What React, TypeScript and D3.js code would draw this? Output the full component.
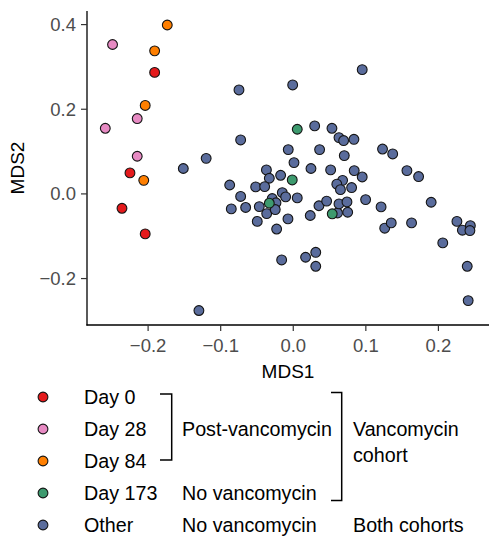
import React from 'react';
import * as d3 from 'd3';

const W = 491;
const H = 538;

// sample groups, coordinates
const groups = ['Day 0', 'Day 28', 'Day 84', 'Day 173', 'Other'];
const colors = ['#e41a1c', '#e78ac3', '#ff7f00', '#3d9a6e', '#5a6c9c'];

const day0 = [[-0.191, 0.287], [-0.225, 0.0496], [-0.236, -0.034], [-0.204, -0.0945]];
const day28 = [[-0.249, 0.353], [-0.215, 0.178], [-0.259, 0.155], [-0.215, 0.089]];
const day84 = [[-0.1736, 0.399], [-0.191, 0.338], [-0.204, 0.209], [-0.206, 0.032]];
const day173 = [[0.0055, 0.1527], [-0.0014, 0.033], [-0.033, -0.022], [0.0537, -0.047]];
const other = [
  [-0.0748, 0.2456], [-0.0725, 0.1275], [-0.12, 0.084], [-0.1515, 0.06], [-0.0876, 0.021],
  [-0.0725, -0.006], [-0.0854, -0.0354], [-0.0656, -0.032], [-0.13, -0.2755], [0.095, 0.2935],
  [-0.0008, 0.2574], [0.0295, 0.1606], [0.0533, 0.155], [0.063, 0.133], [0.0694, 0.126],
  [0.0836, 0.129], [-0.0069, 0.1047], [0.0363, 0.1047], [0.0703, 0.0905], [0.123, 0.106],
  [0.137, 0.0944], [0.001, 0.074], [-0.037, 0.0567], [-0.033, 0.037], [-0.0174, 0.044],
  [0.0244, 0.06], [0.0515, 0.0567], [0.084, 0.055], [0.095, 0.04], [0.1566, 0.055],
  [0.1727, 0.041], [-0.0518, 0.0165], [-0.0394, 0.0173], [0.068, 0.032], [0.06, 0.023],
  [0.065, 0.01], [0.0804, 0.015], [-0.0151, 0.003], [-0.029, -0.011], [-0.0105, -0.007],
  [0.0055, -0.0094], [-0.0238, -0.021], [-0.0468, -0.03], [-0.0366, -0.0465], [-0.0248, -0.037],
  [-0.0496, -0.065], [-0.0073, -0.059], [-0.0229, -0.083], [0.0234, -0.051], [0.0354, -0.028],
  [0.046, -0.017], [0.061, -0.045], [0.063, -0.0236], [0.074, -0.019], [0.075, -0.0433],
  [0.0997, -0.0134], [0.121, -0.0307], [0.19, -0.0197], [0.126, -0.081], [0.135, -0.0685],
  [0.163, -0.0685], [0.2255, -0.065], [0.233, -0.0857], [0.244, -0.075], [0.2434, -0.0866],
  [0.206, -0.1157], [0.2397, -0.171], [0.241, -0.252], [-0.016, -0.156], [0.017, -0.1496],
  [0.031, -0.138], [0.031, -0.171],
];

const xTicks = [-0.2, -0.1, 0, 0.1, 0.2];
const yTicks = [-0.2, 0, 0.2, 0.4];

const treatment = ['', 'Post-vancomycin', '', 'No vancomycin', 'No vancomycin'];

const font = 'Liberation Sans, Arial, Helvetica, sans-serif';

export default function App() {
  const x = d3.scaleLinear().domain([-0.2842, 0.2697]).range([87, 489]);
  const y = d3.scaleLinear().domain([-0.3097, 0.4321]).range([325, 11]);
  const fmt = (v: number) => d3.format('.1f')(v).replace('-', '\u2212');

  // draw "Other" first so coloured points sit on top
  const layers = [
    { pts: other, i: 4 },
    { pts: day0, i: 0 },
    { pts: day28, i: 1 },
    { pts: day84, i: 2 },
    { pts: day173, i: 3 },
  ];

  const rowY = (i: number) => 397 + i * 32;

  return (
    <svg width={W} height={H} style={{ position: 'absolute', left: 0, top: 0 }} fontFamily={font}>
      <rect width={W} height={H} fill="#fff" />

      {/* axes */}
      <line x1={87} x2={87} y1={11} y2={325.6} stroke="#000" strokeWidth={1.3} />
      <line x1={86.4} x2={489} y1={325} y2={325} stroke="#000" strokeWidth={1.3} />
      {yTicks.map(t => (
        <g key={'y' + t}>
          <line x1={81} x2={87} y1={y(t)} y2={y(t)} stroke="#333" strokeWidth={1.2} />
          <text x={76} y={y(t) + 6.5} textAnchor="end" fontSize={18.5} fill="#4d4d4d">{fmt(t)}</text>
        </g>
      ))}
      {xTicks.map(t => (
        <g key={'x' + t}>
          <line x1={x(t)} x2={x(t)} y1={325} y2={331} stroke="#333" strokeWidth={1.2} />
          <text x={x(t)} y={352} textAnchor="middle" fontSize={18.5} fill="#4d4d4d">{fmt(t)}</text>
        </g>
      ))}
      <text x={288} y={378} textAnchor="middle" fontSize={19}>MDS1</text>
      <text transform="translate(24,168) rotate(-90)" textAnchor="middle" fontSize={19}>MDS2</text>

      {/* points */}
      {layers.map(l =>
        l.pts.map((p, j) => (
          <circle key={l.i + '-' + j} cx={x(p[0])} cy={y(p[1])} r={4.9}
            fill={colors[l.i]} stroke="#141414" strokeWidth={1.1} />
        ))
      )}

      {/* legend */}
      {groups.map((g, i) => (
        <g key={g}>
          <circle cx={43} cy={rowY(i)} r={4.9} fill={colors[i]} stroke="#141414" strokeWidth={1.1} />
          <text x={84} y={rowY(i) + 7} fontSize={19.7}>{g}</text>
          {treatment[i] && <text x={182} y={rowY(i) + 7} fontSize={19.7}>{treatment[i]}</text>}
        </g>
      ))}
      <path d="M160,394H171.7V460H160" fill="none" stroke="#000" strokeWidth={1.5} />
      <path d="M331,392.5H341.7V500.5H331" fill="none" stroke="#000" strokeWidth={1.5} />
      <text x={353} y={436} fontSize={19.7}>Vancomycin</text>
      <text x={353} y={461.5} fontSize={19.7}>cohort</text>
      <text x={353} y={rowY(4) + 7} fontSize={19.7}>Both cohorts</text>
    </svg>
  );
}
